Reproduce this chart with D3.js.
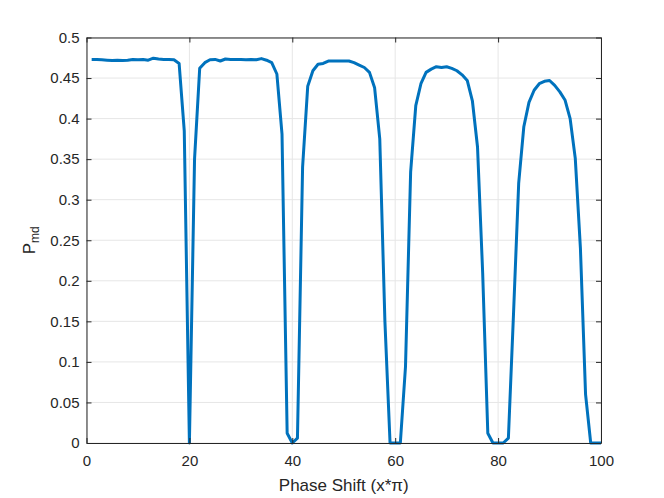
<html>
<head>
<script src="https://d3js.org/d3.v7.min.js"></script>
</head>
<body style="margin:0; padding:0; background:#fff;">
<script>
// phase shift sample points (x*pi), 1..100
var phase = d3.range(1, 101);

// P_md, one value per phase step
var pmd = [
  0.473, 0.473, 0.4725, 0.472, 0.4715, 0.472, 0.4715, 0.472, 0.473, 0.4725,
  0.473, 0.472, 0.4745, 0.4735, 0.473, 0.473, 0.4725, 0.468, 0.385, 0.0,
  0.350, 0.462, 0.469, 0.4725, 0.473, 0.471, 0.4735, 0.473, 0.473, 0.473,
  0.4725, 0.473, 0.4725, 0.474, 0.472, 0.469, 0.455, 0.381, 0.012, 0.0,
  0.006, 0.340, 0.440, 0.459, 0.467, 0.468, 0.471, 0.471, 0.471, 0.471,
  0.471, 0.469, 0.466, 0.463, 0.457, 0.438, 0.375, 0.150, 0.0, 0.0,
  0.0, 0.094, 0.334, 0.416, 0.443, 0.457, 0.461, 0.464, 0.463, 0.464,
  0.462, 0.459, 0.454, 0.447, 0.422, 0.365, 0.210, 0.012, 0.0, 0.0,
  0.0, 0.006, 0.160, 0.320, 0.390, 0.420, 0.435, 0.443, 0.446, 0.447,
  0.441, 0.433, 0.423, 0.400, 0.351, 0.240, 0.060, 0.0, 0.0, 0.0
];

var xTicks = [0, 20, 40, 60, 80, 100];
var yTicks = d3.range(0, 0.5001, 0.05);

var width = 664, height = 498;
// plot box (MATLAB default axes position)
var boxL = 86.5, boxR = 601, boxT = 37.5, boxB = 443;
var tickLen = 5;
var font = "'Liberation Sans', Arial, Helvetica, sans-serif";

var svg = d3.select("body").append("svg")
  .attr("width", width)
  .attr("height", height)
  .style("font-family", font);

var x = d3.scaleLinear().domain([0, 100]).range([boxL, boxR]);
var y = d3.scaleLinear().domain([0, 0.5]).range([boxB, boxT]);

// grid
var grid = svg.append("g").attr("stroke", "#e6e6e6").attr("stroke-width", 1);
grid.selectAll(".gx").data(xTicks).enter().append("line")
  .attr("x1", function(d) { return x(d); }).attr("x2", function(d) { return x(d); })
  .attr("y1", boxT).attr("y2", boxB);
grid.selectAll(".gy").data(yTicks).enter().append("line")
  .attr("x1", boxL).attr("x2", boxR)
  .attr("y1", function(d) { return y(d); }).attr("y2", function(d) { return y(d); });

// the curve
var line = d3.line()
  .x(function(d, i) { return x(phase[i]); })
  .y(function(d) { return y(d); });

svg.append("path")
  .datum(pmd)
  .attr("d", line)
  .attr("fill", "none")
  .attr("stroke", "#0072BD")
  .attr("stroke-width", 3)
  .attr("stroke-linejoin", "round");

// axes, box style with inward ticks on all sides
var axCol = "#262626";
var xb = d3.axisBottom(x).tickValues(xTicks).tickSizeInner(-tickLen).tickSizeOuter(0).tickPadding(12);
var xt = d3.axisTop(x).tickValues(xTicks).tickSizeInner(-tickLen).tickSizeOuter(0).tickFormat("");
var yl = d3.axisLeft(y).tickValues(yTicks).tickSizeInner(-tickLen).tickSizeOuter(0).tickPadding(7)
  .tickFormat(function(d) { return String(+d.toFixed(2)); });
var yr = d3.axisRight(y).tickValues(yTicks).tickSizeInner(-tickLen).tickSizeOuter(0).tickFormat("");

function styleAxis(g) {
  g.selectAll("path").attr("stroke", axCol).attr("stroke-width", 1);
  g.selectAll("line").attr("stroke", axCol).attr("stroke-width", 1);
  g.selectAll("text").attr("fill", axCol).style("font-size", "15px").style("font-family", font);
}

svg.append("g").attr("transform", "translate(0," + boxB + ")").call(xb).call(styleAxis);
svg.append("g").attr("transform", "translate(0," + boxT + ")").call(xt).call(styleAxis);
svg.append("g").attr("transform", "translate(" + boxL + ",0)").call(yl).call(styleAxis);
svg.append("g").attr("transform", "translate(" + boxR + ",0)").call(yr).call(styleAxis);

// labels
svg.append("text")
  .attr("x", (boxL + boxR) / 2)
  .attr("y", 491)
  .attr("text-anchor", "middle")
  .attr("fill", axCol)
  .style("font-size", "17px")
  .text("Phase Shift (x*\u03c0)");

var yLab = svg.append("text")
  .attr("transform", "translate(35," + ((boxT + boxB) / 2) + ") rotate(-90)")
  .attr("text-anchor", "middle")
  .attr("fill", axCol)
  .style("font-size", "17px");
yLab.append("tspan").text("P");
yLab.append("tspan").attr("dy", 4).style("font-size", "12px").text("md");
</script>
</body>
</html>
